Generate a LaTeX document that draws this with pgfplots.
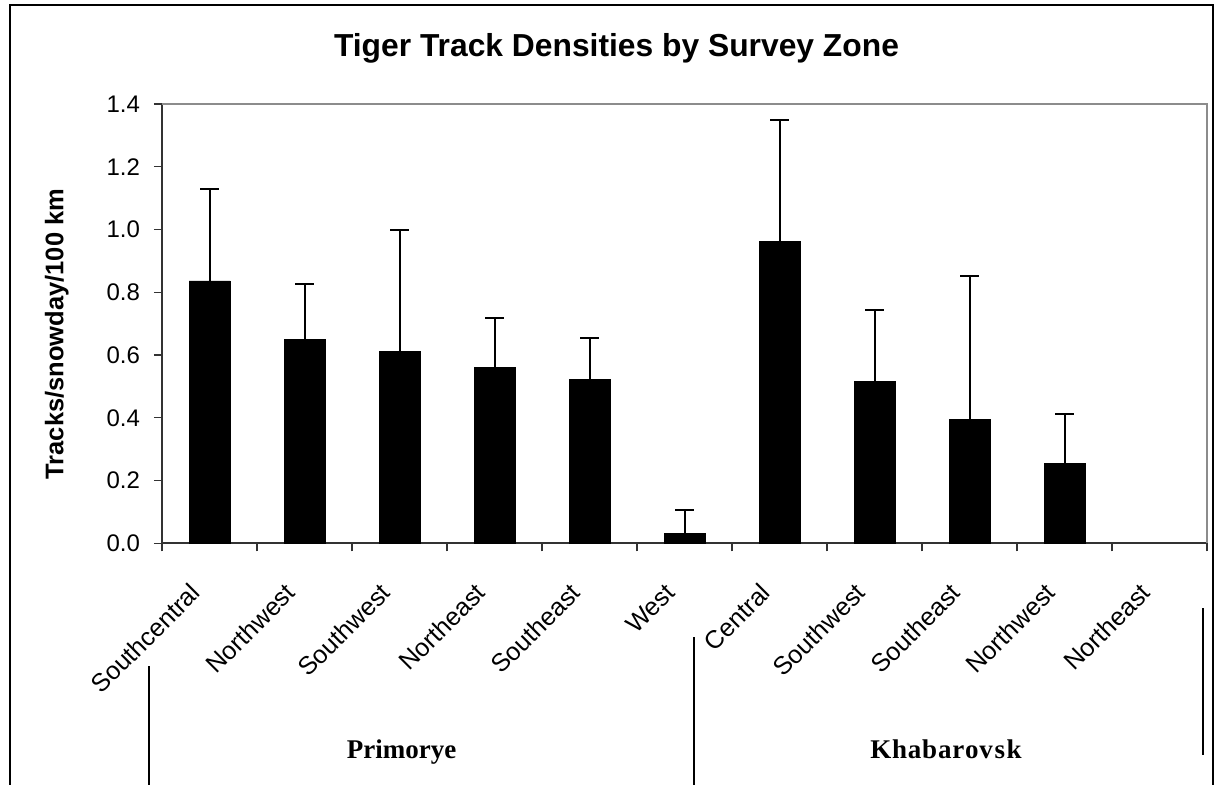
\documentclass[border=0pt]{standalone}
\usepackage{fontspec}
\setmainfont{Liberation Sans}
\newfontfamily\timesfont{Liberation Serif}
\usepackage{pgfplots}
\pgfplotsset{compat=1.18}
\begin{document}
\begin{tikzpicture}
\begin{scope}[x=0.5pt,y=-0.5pt]
\useasboundingbox (0,0) rectangle (1217,784);
\draw[line width=1.25pt] (10,820) -- (10,5) -- (1213,5) -- (1213,820);
\node[anchor=base, font=\bfseries\fontsize{15.9}{18}\selectfont] at (616.5,56.7) {Tiger Track Densities by Survey Zone};
\node[anchor=base, rotate=90, font=\bfseries\fontsize{12.75}{15}\selectfont] at (63.4,334) {Tracks/snowday/100 km};
\node[anchor=base, font=\timesfont\bfseries\fontsize{13.5}{16}\selectfont] at (401.5,758.3) {Primorye};
\node[anchor=base, font=\timesfont\bfseries\fontsize{13.5}{16}\selectfont] at (946,758.3) {K\kern0.4pt h\kern0.4pt a\kern0.4pt b\kern0.4pt a\kern0.4pt r\kern0.4pt o\kern0.4pt v\kern0.8pt s\kern0.8pt k};
\draw[line width=1pt] (149,666) -- (149,790);
\draw[line width=1pt] (694,637) -- (694,790);
\draw[line width=1pt] (1203,608) -- (1203,755);
\end{scope}
\begin{axis}[
  at={(81pt,-271.65pt)}, anchor=south west,
  scale only axis, width=522.5pt, height=219.65pt,
  xmin=-0.5, xmax=10.5, ymin=0, ymax=1.4,
  axis x line*=bottom, axis y line*=left,
  axis line style={black!80, line width=0.9pt},
  ytick={0,0.2,0.4,0.6,0.8,1.0,1.2,1.4},
  /pgf/number format/assume math mode=true,
  yticklabel style={/pgf/number format/fixed, /pgf/number format/fixed zerofill, /pgf/number format/precision=1, font=\fontsize{12}{14}\selectfont, xshift=-3.5pt},
  xtick={0,1,2,3,4,5,6,7,8,9,10},
  xticklabels={Southcentral,Northwest,Southwest,Northeast,Southeast,West,Central,Southwest,Southeast,Northwest,Northeast},
  xticklabel style={yshift=-16pt, xshift=-4.5pt, rotate=45, anchor=east, font=\fontsize{12.6}{14}\selectfont},
  major x tick style={draw=none},
  minor xtick={-0.5,0.5,1.5,2.5,3.5,4.5,5.5,6.5,7.5,8.5,9.5,10.5},
  tick align=outside,
  major tick length=4pt, minor tick length=4pt,
  tick style={black!80, line width=0.6pt},
  ybar, bar width=20.5pt,
  clip=false,
]
\draw[black!45, line width=0.9pt] (rel axis cs:0,1) -- (rel axis cs:1,1) -- (rel axis cs:1,0);
\addplot[fill=black, draw=black,
  error bars/.cd, y dir=plus, y explicit,
  error bar style={line width=1pt, black},
  error mark options={rotate=90, mark size=4.75pt, line width=1pt, black}]
  coordinates {
  (0,0.836) +- (0,0.292)
  (1,0.650) +- (0,0.177)
  (2,0.612) +- (0,0.386)
  (3,0.561) +- (0,0.158)
  (4,0.523) +- (0,0.132)
  (5,0.032) +- (0,0.074)
  (6,0.962) +- (0,0.387)
  (7,0.516) +- (0,0.228)
  (8,0.395) +- (0,0.457)
  (9,0.255) +- (0,0.158)
  };
\end{axis}
\end{tikzpicture}
\end{document}
